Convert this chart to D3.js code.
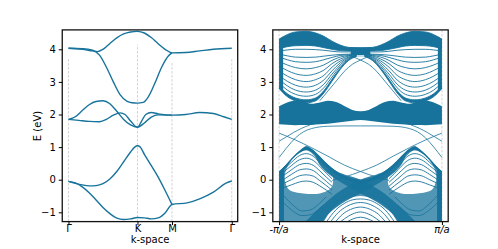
<!DOCTYPE html>
<html><head><meta charset="utf-8">
<script src="https://cdn.jsdelivr.net/npm/d3@7"></script>
<style>
body{margin:0;background:#fff;}
svg text{font-family:"DejaVu Sans",sans-serif;font-size:10px;fill:#000;}
</style></head><body>
<svg id="fig" width="498" height="249"></svg>
<script>
// ---- left panel: bulk bands along Γ-K-M-Γ (path length, eV) ----
const pathTicks = [0, 1, 1.5, 2.366];
const pathLabels = ["Γ", "K", "M", "Γ"];
const guideTops = [3.7, 4.14, 3.58, 3.7];
const yTicks = [-1, 0, 1, 2, 3, 4];

const bandLow = [[0,-0.05],[0.1,-0.1],[0.2,-0.22],[0.3,-0.4],[0.4,-0.62],[0.5,-0.85],[0.6,-1.04],[0.7,-1.18],[0.8,-1.22],[0.9,-1.2],[1.0,-1.16],[1.1,-1.17],[1.2,-1.2],[1.3,-1.17],[1.4,-1.02],[1.5,-0.76],[1.72,-0.71],[1.91,-0.58],[2.1,-0.38],[2.29,-0.1],[2.366,-0.04]];
const bandVal = [[0,-0.05],[0.1,-0.11],[0.2,-0.16],[0.3,-0.19],[0.4,-0.18],[0.5,-0.12],[0.6,0.02],[0.7,0.25],[0.8,0.55],[0.9,0.85],[0.96,1.0],[1.0,1.04],[1.04,1.0],[1.1,0.78],[1.2,0.43],[1.3,0.08],[1.4,-0.33],[1.5,-0.76]];
const bandMidA = [[0,1.85],[0.1,1.93],[0.2,2.12],[0.3,2.3],[0.4,2.4],[0.5,2.42],[0.6,2.33],[0.7,2.1],[0.8,1.85],[0.9,1.68],[1.0,1.61],[1.06,1.8],[1.12,2.0],[1.2,2.06],[1.3,2.02],[1.5,1.98],[1.7,2.0],[1.9,2.06],[2.1,2.03],[2.25,1.93],[2.366,1.85]];
const bandMidB = [[0,1.85],[0.15,1.82],[0.3,1.79],[0.45,1.78],[0.55,1.85],[0.65,1.98],[0.75,2.05],[0.82,2.0],[0.9,1.8],[1.0,1.61],[1.1,1.74],[1.2,1.92],[1.3,1.99],[1.5,1.98]];
const bandUpA = [[0,4.03],[0.2,4.0],[0.35,3.95],[0.42,3.93],[0.5,4.0],[0.6,4.18],[0.7,4.35],[0.8,4.47],[0.9,4.53],[1.0,4.55],[1.1,4.5],[1.2,4.36],[1.3,4.17],[1.4,4.0],[1.5,3.89],[1.7,3.9],[1.9,3.95],[2.1,4.0],[2.366,4.03]];
const bandUpB = [[0,4.03],[0.2,4.02],[0.35,3.97],[0.45,3.82],[0.55,3.45],[0.65,3.0],[0.75,2.6],[0.85,2.4],[0.92,2.36],[1.0,2.35],[1.08,2.37],[1.15,2.52],[1.25,2.95],[1.35,3.45],[1.45,3.8],[1.5,3.89]];

// ---- right panel: ribbon subbands, k in units of π/a; left halves, mirrored about k = 0 ----
const kTickVals = [-1, 1];
const kCap = [-1, -0.9, -0.8, -0.667, -0.55, -0.45, -0.35, -0.25, -0.15, 0];
const kCup = [-1, -0.9, -0.8, -0.667, -0.55, -0.45, -0.35, -0.25, -0.15, -0.05];
// upper group: subbands with a maximum near K (caps) and a minimum near K (cups)
const condCaps = [
  [4.31, 4.45, 4.53, 4.55, 4.5, 4.4, 4.25, 4.13, 4.06, 4.04],
  [4.24, 4.36, 4.43, 4.45, 4.41, 4.32, 4.19, 4.09, 4.04, 4.02],
  [4.17, 4.27, 4.33, 4.35, 4.31, 4.23, 4.12, 4.05, 4.01, 4.0],
  [4.1, 4.18, 4.23, 4.24, 4.21, 4.14, 4.06, 4.01, 3.98, 3.98],
  [4.02, 4.08, 4.11, 4.12, 4.1, 4.05, 4.0, 3.96, 3.95, 3.95],
  [3.95, 3.98, 4.0, 4.0, 3.99, 3.97, 3.94, 3.92, 3.92, 3.92]
];
const condCups = [
  [2.8, 2.55, 2.42, 2.36, 2.42, 2.66, 3.02, 3.38, 3.65, 3.78],
  [2.88, 2.64, 2.51, 2.45, 2.51, 2.73, 3.08, 3.42, 3.67, 3.79],
  [2.97, 2.75, 2.62, 2.56, 2.62, 2.82, 3.15, 3.47, 3.69, 3.8],
  [3.08, 2.88, 2.75, 2.69, 2.75, 2.93, 3.24, 3.52, 3.71, 3.8],
  [3.2, 3.02, 2.9, 2.84, 2.9, 3.06, 3.34, 3.58, 3.74, 3.81],
  [3.34, 3.18, 3.07, 3.01, 3.07, 3.2, 3.45, 3.64, 3.76, 3.82],
  [3.49, 3.35, 3.25, 3.2, 3.25, 3.36, 3.56, 3.7, 3.79, 3.83],
  [3.63, 3.52, 3.44, 3.4, 3.44, 3.52, 3.66, 3.76, 3.81, 3.84],
  [3.76, 3.68, 3.62, 3.6, 3.62, 3.68, 3.75, 3.81, 3.83, 3.85],
  [3.85, 3.8, 3.76, 3.75, 3.76, 3.79, 3.82, 3.84, 3.85, 3.86]
];
const condColumn = [[-1,4.31],[-0.95,4.39],[-0.95,2.68],[-1,2.8]];
const neck = [[-0.12,4.06],[0.12,4.06],[0.12,3.82],[-0.12,3.82]];
const edgeRise = [[-0.5,2.42],[-0.4,2.72],[-0.3,3.02],[-0.2,3.32],[-0.1,3.54],[0,3.67],[0.08,3.76],[0.14,3.82]];

// middle group
const midTop = [[-1,2.25],[-0.9,2.37],[-0.8,2.42],[-0.7,2.39],[-0.6,2.33],[-0.5,2.37],[-0.4,2.42],[-0.3,2.38],[-0.2,2.26],[-0.1,2.14],[0,2.1]];
const midBottom = [[-1,1.7],[-0.8,1.67],[-0.6,1.68],[-0.4,1.72],[-0.2,1.78],[0,1.83]];

// in-gap states
const lensArch = [[-1,0.68],[-0.9,1.0],[-0.8,1.28],[-0.7,1.47],[-0.6,1.57],[-0.5,1.62],[-0.4,1.64],[-0.2,1.65],[0,1.65]];
const lensDrop = [[-1,1.43],[-0.8,1.22],[-0.6,0.98],[-0.4,0.72],[-0.2,0.45],[0,0.25],[0.2,0.08],[0.35,-0.02]];
const sideRise = [[-1,1.18],[-0.92,1.3],[-0.82,1.45],[-0.72,1.58],[-0.62,1.68]];

// valence group
const valTop = [[-1,0.25],[-0.9,0.5],[-0.8,0.77],[-0.72,0.95],[-0.667,1.03],[-0.6,0.95],[-0.5,0.72],[-0.4,0.47],[-0.3,0.27],[-0.2,0.12],[-0.1,0.03],[0,0.0]];
const valTopInner = [[-1,0.14],[-0.9,0.42],[-0.8,0.68],[-0.72,0.85],[-0.667,0.92],[-0.6,0.85],[-0.5,0.62],[-0.4,0.37],[-0.3,0.17],[-0.2,0.02],[-0.1,-0.07],[0,-0.1]];
const valColumn = [[-1,0.25],[-0.94,0.4],[-0.94,-1.4],[-1,-1.4]];
const diagStrip = [[-0.55,0.75],[-0.3,0.27],[0,0.0],[0.25,-0.35],[0.45,-0.75],[0.6,-1.1],[0.7,-1.4],[0.5,-1.4],[0.38,-1.02],[0.2,-0.68],[0,-0.42],[-0.2,-0.14],[-0.38,0.15],[-0.5,0.45]];
const triHollow = [[-0.667,0.9],[-0.52,0.6],[-0.42,0.36],[-0.34,0.1],[-0.36,-0.25],[-0.5,-0.42],[-0.7,-0.42],[-0.88,-0.3],[-0.93,0.1],[-0.86,0.55]];
const kTri = [-0.95, -0.85, -0.75, -0.667, -0.58, -0.5, -0.42, -0.35];
const triCaps = [
  [0.36, 0.62, 0.85, 0.92, 0.84, 0.64, 0.42, 0.24],
  [0.3, 0.53, 0.74, 0.8, 0.72, 0.53, 0.32, 0.14],
  [0.22, 0.43, 0.61, 0.66, 0.59, 0.41, 0.2, 0.03],
  [0.12, 0.3, 0.46, 0.5, 0.44, 0.27, 0.08, -0.08],
  [0.0, 0.16, 0.3, 0.33, 0.28, 0.12, -0.05, -0.2],
  [-0.12, 0.0, 0.12, 0.15, 0.11, -0.03, -0.18, -0.32],
  [-0.25, -0.16, -0.07, -0.04, -0.08, -0.19, -0.32, -0.45]
];
const domeHollow = [[-0.48,-1.4],[-0.38,-1.0],[-0.27,-0.74],[-0.15,-0.58],[0,-0.5]];
const domeCaps = [
  [[-0.42,-1.3],[-0.3,-0.92],[-0.2,-0.73],[-0.1,-0.62],[0,-0.59]],
  [[-0.37,-1.3],[-0.27,-1.0],[-0.17,-0.82],[-0.07,-0.72],[0,-0.7]],
  [[-0.31,-1.3],[-0.22,-1.06],[-0.12,-0.91],[0,-0.84]],
  [[-0.25,-1.3],[-0.15,-1.12],[-0.05,-1.01],[0,-0.99]],
  [[-0.17,-1.3],[-0.08,-1.19],[0,-1.15]]
];
const lowCups = [
  [[-0.94,-0.5],[-0.82,-0.8],[-0.72,-0.96],[-0.62,-0.93],[-0.5,-0.72],[-0.42,-0.52]],
  [[-0.94,-0.72],[-0.82,-0.98],[-0.72,-1.1],[-0.62,-1.08],[-0.52,-0.93],[-0.45,-0.78]]
];

// ---- layout ----
const col = "#17739c";
const svg = d3.select("#fig");
const yTop = 29.9, yBot = 221.6;

function mirror(pts){
  const right = pts.slice().reverse().filter(p=>p[0] !== 0).map(p=>[-p[0], p[1]]);
  return pts.concat(right);
}
function flip(pts){ return pts.map(p=>[-p[0], p[1]]); }
const onGrid = (ks, rows) => rows.map(r => r.map((e,i)=>[ks[i], e]));

function frame(g, x0, x1){
  g.append("rect").attr("x", x0).attr("y", yTop).attr("width", x1-x0).attr("height", yBot-yTop)
    .attr("fill","none").attr("stroke","#111").attr("stroke-width",1.3);
}
function yAxis(g, y, x0){
  g.append("g").attr("transform",`translate(${x0},0)`)
    .call(d3.axisLeft(y).tickValues(yTicks).tickSize(3.5).tickPadding(3).tickFormat(d=>d<0?"\u2212"+(-d):d))
    .call(a=>a.select(".domain").remove())
    .call(a=>a.selectAll("text").style("font-size","10px").style("font-family","DejaVu Sans"));
}

// left panel
const xL = d3.scaleLinear().domain([-0.09, 2.452]).range([62.25, 237.7]);
const yL = d3.scaleLinear().domain([-1.285, 4.595]).range([yBot, yTop]);
const gL = svg.append("g");
svg.append("clipPath").attr("id","cl").append("rect")
  .attr("x",62.25).attr("y",yTop).attr("width",175.45).attr("height",yBot-yTop);

gL.selectAll("line.guide").data(pathTicks).enter().append("line")
  .attr("x1",d=>xL(d)).attr("x2",d=>xL(d))
  .attr("y1",yBot).attr("y2",(d,i)=>yL(guideTops[i]))
  .attr("stroke","#c8c8c8").attr("stroke-width",0.8).attr("stroke-dasharray","2.5,1.5");

const lineL = d3.line().x(d=>xL(d[0])).y(d=>yL(d[1])).curve(d3.curveMonotoneX);
gL.append("g").attr("clip-path","url(#cl)").selectAll("path")
  .data([bandLow, bandVal, bandMidA, bandMidB, bandUpA, bandUpB]).enter().append("path")
  .attr("d", lineL).attr("fill","none").attr("stroke",col).attr("stroke-width",1.4);

frame(gL, 62.25, 237.7);
yAxis(gL, yL, 62.25);
gL.append("g").attr("transform",`translate(0,${yBot})`)
  .call(d3.axisBottom(xL).tickValues(pathTicks).tickSize(3.5).tickPadding(0).tickFormat((d,i)=>pathLabels[i]))
  .call(a=>a.select(".domain").remove())
  .call(a=>a.selectAll("text").style("font-size","10px").style("font-family","DejaVu Sans"));
gL.append("text").attr("x",150).attr("y",243).attr("text-anchor","middle").text("k-space");
gL.append("text").attr("transform","translate(41,126) rotate(-90)").attr("text-anchor","middle").text("E (eV)");

// right panel
const xR = d3.scaleLinear().domain([-1.077, 1.077]).range([272.8, 448.2]);
const yR = yL.copy();
const gR = svg.append("g");
svg.append("clipPath").attr("id","cr").append("rect")
  .attr("x",272.8).attr("y",yTop).attr("width",175.4).attr("height",yBot-yTop);
const body = gR.append("g").attr("clip-path","url(#cr)");

body.selectAll("line.edge").data(kTickVals).enter().append("line")
  .attr("x1",d=>xR(d)).attr("x2",d=>xR(d)).attr("y1",yTop).attr("y2",yBot)
  .attr("stroke","#c8c8c8").attr("stroke-width",0.8).attr("stroke-dasharray","2.5,1.5");

const lineR = d3.line().x(d=>xR(d[0])).y(d=>yR(d[1])).curve(d3.curveMonotoneX);
const areaR = d3.area().x(d=>xR(d[0])).y0(d=>yR(d[1])).y1(d=>yR(d[2])).curve(d3.curveMonotoneX);
const polyR = d3.line().x(d=>xR(d[0])).y(d=>yR(d[1])).curve(d3.curveCatmullRomClosed.alpha(0.5));
const flatR = d3.line().x(d=>xR(d[0])).y(d=>yR(d[1]));

function between(top, bottom){
  const bt = d3.scaleLinear().domain(bottom.map(p=>p[0])).range(bottom.map(p=>p[1]));
  return top.map(p=>[p[0], bt(p[0]), p[1]]);
}
function fillBand(top, bottom, op){
  body.append("path").attr("d", areaR(between(mirror(top), mirror(bottom))))
    .attr("fill",col).attr("fill-opacity",op);
}
function blob(pts, fill, op, smooth){
  body.append("path").attr("d", (smooth ? polyR : flatR)(pts) + (smooth ? "" : "Z"))
    .attr("fill",fill).attr("fill-opacity",op);
}
function curves(list, w){
  body.append("g").selectAll("path").data(list).enter().append("path")
    .attr("d", lineR).attr("fill","none").attr("stroke",col).attr("stroke-width",w||0.8);
}
const both = list => list.concat(list.map(flip));

// upper group
const caps = onGrid(kCap, condCaps), cups = onGrid(kCup, condCups);
fillBand(caps[0], caps[4], 1);
fillBand(cups[1], cups[0], 1);
blob(condColumn, col, 1); blob(flip(condColumn), col, 1);
blob(neck, col, 1);
curves(caps.map(mirror), 0.9);
curves(both(cups), 0.9);
curves([edgeRise, flip(edgeRise)]);

// middle group
fillBand(midTop, midBottom, 1);

// valence group
fillBand(valTop, [[-1,-1.4],[0,-1.4]], 0.75);
fillBand(valTop, valTopInner, 1);
blob(triHollow, "#fff", 1, true); blob(flip(triHollow), "#fff", 1, true);
blob(mirror(domeHollow), "#fff", 1, true);
blob(valColumn, col, 1); blob(flip(valColumn), col, 1);
blob(diagStrip, col, 0.9, true); blob(flip(diagStrip), col, 0.9, true);
curves(both(onGrid(kTri, triCaps)), 0.9);
curves(domeCaps.map(mirror), 0.9);
curves(both(lowCups));

// in-gap lines
curves([mirror(lensArch), lensDrop, flip(lensDrop), sideRise, flip(sideRise)]);

frame(gR, 272.8, 448.2);
yAxis(gR, yR, 272.8);
gR.append("g").attr("transform",`translate(0,${yBot})`)
  .call(d3.axisBottom(xR).tickValues(kTickVals).tickSize(3.5).tickFormat(()=>""))
  .call(a=>a.select(".domain").remove());
const kLab = gR.selectAll("text.kl").data(kTickVals).enter().append("text")
  .attr("x",d=>xR(d)).attr("y",232.5).attr("text-anchor","middle");
kLab.append("tspan").text(d=>d<0?"-":"");
kLab.append("tspan").style("font-style","italic").text("π/a");
gR.append("text").attr("x",360.5).attr("y",243).attr("text-anchor","middle").text("k-space");
</script></body></html>
